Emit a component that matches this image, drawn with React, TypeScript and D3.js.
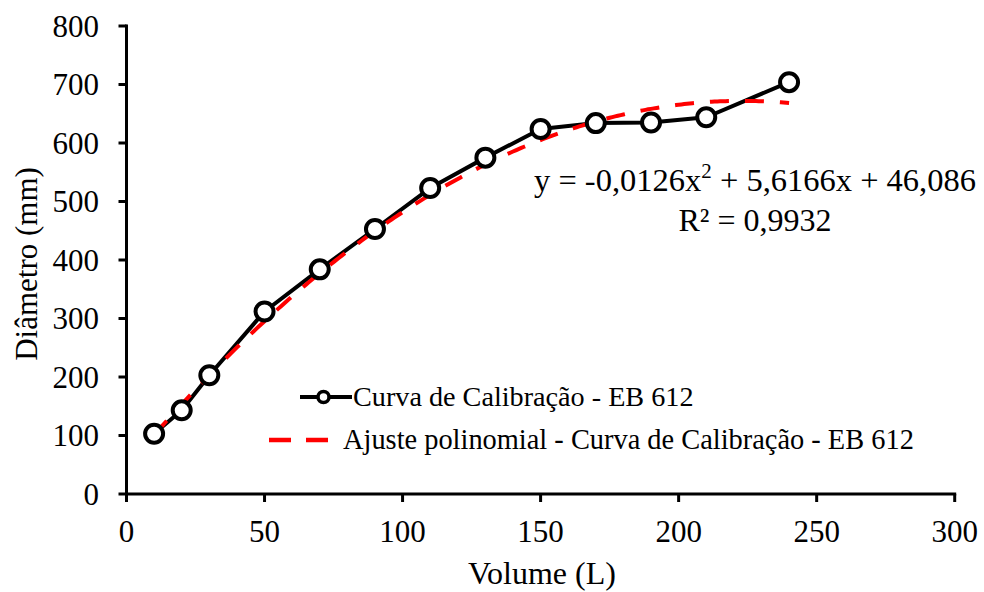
import React from "react";
import * as d3 from "d3";

const volumes = [10, 20, 30, 50, 70, 90, 110, 130, 150, 170, 190, 210, 240];
const diameters = [103, 143, 203, 312, 384, 453, 523, 575, 624, 634, 635, 644, 704];
// polynomial fit coefficients (c0 + c1 x + c2 x^2), as printed on the chart
const fitCoefs = [46.086, 5.6166, -0.0126];
const xTicks = [0, 50, 100, 150, 200, 250, 300];
const yTicks = [0, 100, 200, 300, 400, 500, 600, 700, 800];
const seriesName = "Curva de Calibração - EB 612";
const fitName = "Ajuste polinomial - Curva de Calibração - EB 612";
const xTitle = "Volume (L)";
const yTitle = "Diâmetro (mm)";

const W = 984;
const H = 592;
const FONT = "'Liberation Serif', 'Times New Roman', serif";

export default function App() {
  const x = d3.scaleLinear().domain([0, 300]).range([126.5, 954.7]);
  const y = d3.scaleLinear().domain([0, 800]).range([494, 26]);

  const pts = volumes.map((v, i) => [v, diameters[i]] as [number, number]);
  const line = d3
    .line<[number, number]>()
    .x((d) => x(d[0]))
    .y((d) => y(d[1]));

  const xMin = d3.min(volumes)!;
  const xMax = d3.max(volumes)!;
  const fitPts: [number, number][] = d3
    .range(xMin, xMax + 0.001, 1)
    .map((v) => [v, fitCoefs[0] + fitCoefs[1] * v + fitCoefs[2] * v * v]);

  const axisColor = "#000";

  return (
    <svg
      width={W}
      height={H}
      style={{ position: "absolute", left: 0, top: 0, background: "#fff" }}
      fontFamily={FONT}
    >
      <rect x={0} y={0} width={W} height={H} fill="#fff" />

      {/* y axis */}
      <line x1={x(0)} x2={x(0)} y1={y(800) - 1.5} y2={y(0) + 1.5} stroke={axisColor} strokeWidth={3} />
      {yTicks.map((t) => (
        <g key={"yt" + t}>
          <line x1={x(0) - 8} x2={x(0)} y1={y(t)} y2={y(t)} stroke={axisColor} strokeWidth={3} />
          <text x={99} y={y(t)} dy="0.34em" textAnchor="end" fontSize={31} fill="#000">
            {t}
          </text>
        </g>
      ))}

      {/* x axis */}
      <line x1={x(0) - 1.5} x2={x(300) + 1.5} y1={y(0)} y2={y(0)} stroke={axisColor} strokeWidth={3} />
      {xTicks.map((t) => (
        <g key={"xt" + t}>
          <line x1={x(t)} x2={x(t)} y1={y(0)} y2={y(0) + 8} stroke={axisColor} strokeWidth={3} />
          <text x={x(t)} y={542} textAnchor="middle" fontSize={31} fill="#000">
            {t}
          </text>
        </g>
      ))}

      {/* axis titles */}
      <text x={542} y={584} textAnchor="middle" fontSize={32} fill="#000">
        {xTitle}
      </text>
      <text
        transform={`translate(37, 264) rotate(-90)`}
        textAnchor="middle"
        fontSize={31}
        fill="#000"
      >
        {yTitle}
      </text>

      {/* data series */}
      <path d={line(pts)!} fill="none" stroke="#000" strokeWidth={4} strokeLinejoin="round" />
      {/* trend line */}
      <path
        d={line(fitPts)!}
        fill="none"
        stroke="#ff0000"
        strokeWidth={4}
        strokeDasharray="19 16"
      />
      {pts.map((p, i) => (
        <circle key={"c" + i} cx={x(p[0])} cy={y(p[1])} r={9} fill="#fff" stroke="#000" strokeWidth={4} />
      ))}

      {/* equation */}
      <text x={755} y={191} textAnchor="middle" fontSize={32.5} fill="#000">
        y = -0,0126x
        <tspan fontSize={21} dy={-13}>2</tspan>
        <tspan dy={13}> + 5,6166x + 46,086</tspan>
      </text>
      <text x={755} y={231} textAnchor="middle" fontSize={32} fill="#000">
        R² = 0,9932
      </text>

      {/* legend */}
      <line x1={300} x2={352} y1={397} y2={397} stroke="#000" strokeWidth={4} />
      <circle cx={323.5} cy={397} r={5.5} fill="#fff" stroke="#000" strokeWidth={3.5} />
      <text x={353} y={406} fontSize={28.2} fill="#000">
        {seriesName}
      </text>
      <line x1={269} x2={340} y1={440} y2={440} stroke="#ff0000" strokeWidth={4.5} strokeDasharray="22 15" />
      <text x={343} y={449} fontSize={28.4} fill="#000">
        {fitName}
      </text>
    </svg>
  );
}
